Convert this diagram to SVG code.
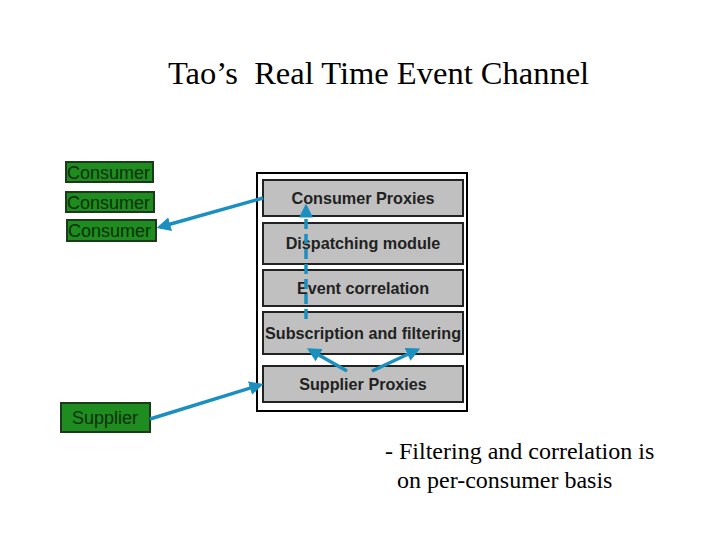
<svg xmlns="http://www.w3.org/2000/svg" width="720" height="540" viewBox="0 0 720 540">
<style>
.title{font-family:"Liberation Serif",serif;font-size:32.5px;fill:#000;white-space:pre}
.note{font-family:"Liberation Serif",serif;font-size:24px;fill:#000}
.layer rect{fill:#c0c0c0;stroke:#222;stroke-width:2}
.layer text{font-family:"Liberation Sans",Arial,sans-serif;font-size:16.2px;font-weight:bold;fill:#222;text-anchor:middle}
.ext rect{fill:#1e8c1e;stroke:#1a3a1a;stroke-width:2}
.ext text{font-family:"Liberation Sans",Arial,sans-serif;font-size:18px;fill:#0d300d}
.conn{stroke:#1a8fc0;stroke-width:3.5;fill:none}
</style>
<defs>
<marker id="ah" markerWidth="4" markerHeight="4" refX="3" refY="2" orient="auto" markerUnits="strokeWidth">
<path d="M0,0 L4,2 L0,4 Z" fill="#1a8fc0"/>
</marker>
</defs>
<rect width="720" height="540" fill="#fff"/>
<text class="title" x="168" y="84" xml:space="preserve">Tao’s  Real Time Event Channel</text>
<g id="channel">
<rect x="257" y="173" width="210" height="238" fill="#fff" stroke="#000" stroke-width="2"/>
</g>
<g id="consumer-proxies" class="layer"><rect x="263" y="180" width="200" height="36"/><text x="363" y="204">Consumer Proxies</text></g>
<g id="dispatching" class="layer"><rect x="263" y="223" width="200" height="41"/><text x="363" y="249">Dispatching module</text></g>
<g id="event-correlation" class="layer"><rect x="263" y="270" width="200" height="36"/><text x="363" y="294">Event correlation</text></g>
<g id="subscription" class="layer"><rect x="263" y="312" width="200" height="42"/><text x="363" y="339">Subscription and filtering</text></g>
<g id="supplier-proxies" class="layer"><rect x="263" y="366" width="200" height="36"/><text x="363" y="390">Supplier Proxies</text></g>
<g id="consumer1" class="ext"><rect x="66" y="162" width="87" height="20"/><text x="67" y="179">Consumer</text></g>
<g id="consumer2" class="ext"><rect x="66" y="192" width="88" height="20"/><text x="67" y="209">Consumer</text></g>
<g id="consumer3" class="ext"><rect x="67" y="220" width="89" height="21"/><text x="68" y="237">Consumer</text></g>
<g id="supplier" class="ext"><rect x="61" y="403" width="89" height="29"/><text x="72" y="424">Supplier</text></g>
<text class="note" x="385" y="459">- Filtering and correlation is</text>
<text class="note" x="397" y="488">on per-consumer basis</text>
<g id="connectors">
<line class="conn" x1="263" y1="198" x2="160" y2="227" marker-end="url(#ah)"/>
<line class="conn" x1="150" y1="419" x2="260" y2="385" marker-end="url(#ah)"/>
<line class="conn" x1="306" y1="319" x2="306" y2="207" stroke-dasharray="10,5" marker-end="url(#ah)"/>
<line class="conn" x1="347" y1="371" x2="310" y2="350" marker-end="url(#ah)"/>
<line class="conn" x1="372" y1="371" x2="417" y2="350" marker-end="url(#ah)"/>
</g>
</svg>
